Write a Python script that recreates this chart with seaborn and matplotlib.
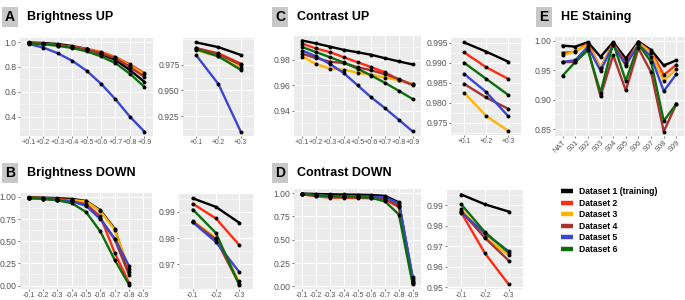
import matplotlib
matplotlib.use("Agg")
import matplotlib.pyplot as plt
import seaborn as sns
import pandas as pd
from matplotlib.lines import Line2D
from matplotlib.ticker import MultipleLocator, FixedLocator, FormatStrFormatter

plt.rcParams['font.family'] = ['Liberation Sans', 'DejaVu Sans']

# ---------------- data ----------------
datasets = ["Dataset 1 (training)", "Dataset 2", "Dataset 3",
            "Dataset 4", "Dataset 5", "Dataset 6"]
palette = ["#000000", "#FF2A10", "#FFB400", "#A83232", "#3A46D0", "#0B6E0B"]

up_levels = ["+0.1", "+0.2", "+0.3", "+0.4", "+0.5", "+0.6", "+0.7", "+0.8", "+0.9"]
down_levels = ["-0.1", "-0.2", "-0.3", "-0.4", "-0.5", "-0.6", "-0.7", "-0.8", "-0.9"]
he_levels = ["NAT", "S01", "S02", "S03", "S04", "S05", "S06", "S07", "S08", "S09"]

brightness_up = [
    [0.9966, 0.992, 0.9845, 0.968, 0.945, 0.905, 0.855, 0.775, 0.68],
    [0.991, 0.986, 0.976, 0.963, 0.945, 0.92, 0.88, 0.82, 0.75],
    [0.989, 0.983, 0.972, 0.958, 0.94, 0.915, 0.875, 0.81, 0.74],
    [0.991, 0.985, 0.975, 0.96, 0.94, 0.912, 0.87, 0.80, 0.72],
    [0.984, 0.956, 0.910, 0.85, 0.77, 0.665, 0.54, 0.40, 0.28],
    [0.990, 0.983, 0.970, 0.952, 0.925, 0.885, 0.83, 0.745, 0.64],
]

brightness_down = [
    [0.9952, 0.9919, 0.9859, 0.978, 0.955, 0.85, 0.64, 0.15],
    [0.9931, 0.9875, 0.9774, 0.96, 0.92, 0.78, 0.37, 0.03],
    [0.9866, 0.980, 0.9635, 0.965, 0.95, 0.84, 0.63, 0.19],
    [0.9862, 0.9795, 0.9625, 0.955, 0.91, 0.76, 0.52, 0.12],
    [0.9860, 0.9785, 0.9671, 0.95, 0.90, 0.75, 0.53, 0.22],
    [0.9909, 0.9819, 0.9622, 0.93, 0.83, 0.61, 0.29, 0.01],
]

contrast_up = [
    [0.9951, 0.9928, 0.9903, 0.9878, 0.9859, 0.9839, 0.9812, 0.9787, 0.9763],
    [0.9926, 0.9889, 0.9860, 0.9820, 0.9781, 0.9742, 0.9701, 0.9644, 0.9608],
    [0.9825, 0.9767, 0.9730, 0.9722, 0.9699, 0.9683, 0.9660, 0.9639, 0.9608],
    [0.9847, 0.9813, 0.9785, 0.9774, 0.9742, 0.9717, 0.9686, 0.9647, 0.9600],
    [0.9872, 0.9827, 0.9767, 0.9696, 0.9600, 0.9504, 0.9419, 0.9328, 0.9237],
    [0.9900, 0.9860, 0.9820, 0.9779, 0.9730, 0.9676, 0.9618, 0.9556, 0.9491],
]

contrast_down = [
    [0.9951, 0.9903, 0.9868, 0.985, 0.983, 0.980, 0.970, 0.90, 0.08],
    [0.9863, 0.9665, 0.9514, 0.950, 0.948, 0.945, 0.930, 0.85, 0.05],
    [0.9880, 0.9745, 0.9655, 0.962, 0.960, 0.957, 0.945, 0.87, 0.06],
    [0.9870, 0.9740, 0.9630, 0.960, 0.957, 0.953, 0.940, 0.86, 0.04],
    [0.9865, 0.9762, 0.9675, 0.966, 0.964, 0.962, 0.955, 0.89, 0.10],
    [0.9903, 0.9768, 0.9668, 0.962, 0.958, 0.950, 0.910, 0.77, 0.02],
]

he_staining = [
    [0.9919, 0.9900, 0.9977, 0.9727, 0.9977, 0.9698, 0.9988, 0.9843, 0.9581, 0.9669],
    [0.9797, 0.9814, 0.9960, 0.9535, 0.9960, 0.9622, 0.9977, 0.9814, 0.9419, 0.9593],
    [0.9756, 0.9826, 0.9930, 0.9535, 0.9940, 0.9570, 0.9960, 0.9800, 0.9320, 0.9520],
    [0.9640, 0.9640, 0.9860, 0.9058, 0.9756, 0.9157, 0.9870, 0.9465, 0.8460, 0.8930],
    [0.9640, 0.9670, 0.9900, 0.9490, 0.9930, 0.9590, 0.9940, 0.9727, 0.9145, 0.9436],
    [0.9407, 0.9640, 0.9840, 0.9120, 0.9960, 0.9320, 0.9940, 0.9640, 0.8640, 0.8930],
]

# y-axis tick labels of each panel
ticks_bu_main = [0.4, 0.6, 0.8, 1.0]
ticks_bu_zoom = [0.925, 0.950, 0.975]
ticks_bd_main = [0.00, 0.25, 0.50, 0.75, 1.00]
ticks_bd_zoom = [0.97, 0.98, 0.99]
ticks_cu_main = [0.94, 0.96, 0.98]
ticks_cu_zoom = [0.975, 0.980, 0.985, 0.990, 0.995]
ticks_cd_main = [0.00, 0.25, 0.50, 0.75, 1.00]
ticks_cd_zoom = [0.95, 0.96, 0.97, 0.98, 0.99]
ticks_he = [0.85, 0.90, 0.95, 1.00]

# ---------------- figure ----------------
W, H = 685, 300
fig = plt.figure(figsize=(W / 100, H / 100), dpi=100)
fig.patch.set_facecolor("white")


def long_df(levels, values, n):
    rows = []
    for name, vals in zip(datasets, values):
        for j, v in enumerate(vals[:n]):
            rows.append({"pos": j, "level": levels[j], "value": v, "dataset": name})
    return pd.DataFrame(rows)


def panel(rect, levels, values, yticks, fmt, n=None, xsize=5.2, rot=0):
    x0, y0, x1, y1 = rect
    ax = fig.add_axes([x0 / W, 1 - y1 / H, (x1 - x0) / W, (y1 - y0) / H])
    lv = levels if n is None else levels[:n]
    df = long_df(lv, values, len(lv))
    sns.lineplot(data=df, x="pos", y="value", hue="dataset", hue_order=datasets,
                 palette=palette, lw=1.7, legend=False, ax=ax, sort=False,
                 estimator=None)
    sns.scatterplot(data=df, x="pos", y="value", color="black", s=8,
                    linewidth=0, legend=False, ax=ax, zorder=5)
    ax.set_xlim(-0.6, len(lv) - 1 + 0.6)
    ax.set_xticks(range(len(lv)))
    if rot:
        ax.set_xticklabels(lv, rotation=rot, ha="right", rotation_mode="anchor")
    else:
        ax.set_xticklabels(lv)
    step = yticks[1] - yticks[0]
    ax.yaxis.set_major_locator(FixedLocator(yticks))
    ax.yaxis.set_minor_locator(MultipleLocator(step / 2))
    ax.yaxis.set_major_formatter(FormatStrFormatter(fmt))
    ax.set_facecolor("#EBEBEB")
    ax.set_axisbelow(True)
    ax.grid(which="major", color="white", lw=0.8)
    ax.grid(which="minor", axis="y", color="white", lw=0.4)
    for s in ax.spines.values():
        s.set_visible(False)
    ax.tick_params(which="major", length=1.6, width=0.5, color="#444444",
                   labelcolor="#555555", pad=0.8)
    ax.tick_params(which="minor", length=0)
    ax.tick_params(axis="y", labelsize=6.2)
    ax.tick_params(axis="x", labelsize=xsize)
    ax.set_xlabel("")
    ax.set_ylabel("")
    return ax


def label(letter, cx, cy, title):
    fig.text(cx / W, 1 - cy / H, letter, ha="center", va="center",
             fontsize=10, fontweight="bold",
             bbox=dict(boxstyle="square,pad=0.22", fc="#C8C8C8", ec="none"))
    fig.text((cx + 17) / W, 1 - cy / H, title, ha="left", va="center",
             fontsize=9, fontweight="bold")


# Row 1
panel((20, 38, 153, 136), up_levels, brightness_up, ticks_bu_main, "%.1f")
panel((183, 38, 254, 136), up_levels, brightness_up, ticks_bu_zoom, "%.3f", n=3, xsize=4.8)
panel((294, 36, 421, 136), up_levels, contrast_up, ticks_cu_main, "%.2f")
panel((451, 38, 521, 135), up_levels, contrast_up, ticks_cu_zoom, "%.3f", n=3, xsize=4.8)
panel((555, 37, 684, 136), he_levels, he_staining, ticks_he, "%.2f", xsize=5.4, rot=45)

# Row 2
panel((20, 193, 152, 289), down_levels, brightness_down, ticks_bd_main, "%.2f")
panel((179, 194, 253, 289), down_levels, brightness_down, ticks_bd_zoom, "%.2f", n=3, xsize=4.8)
panel((294, 189, 421, 289), down_levels, contrast_down, ticks_cd_main, "%.2f")
panel((447, 190, 523, 289), down_levels, contrast_down, ticks_cd_zoom, "%.2f", n=3, xsize=4.8)

label("A", 10, 17, "Brightness UP")
label("B", 10, 173, "Brightness DOWN")
label("C", 280, 17, "Contrast UP")
label("D", 280, 173, "Contrast DOWN")
label("E", 544, 17, "HE Staining")

handles = [Line2D([], [], color=c, lw=3.2, solid_capstyle="butt") for c in palette]
fig.legend(handles, datasets, loc="upper left",
           bbox_to_anchor=(561 / W, 1 - 187 / H), frameon=False,
           prop={"weight": "bold", "size": 6.2}, handlelength=1.4,
           handletextpad=0.7, labelspacing=0.3, borderpad=0, borderaxespad=0)

fig.savefig("out.png", dpi=100, facecolor="white")
